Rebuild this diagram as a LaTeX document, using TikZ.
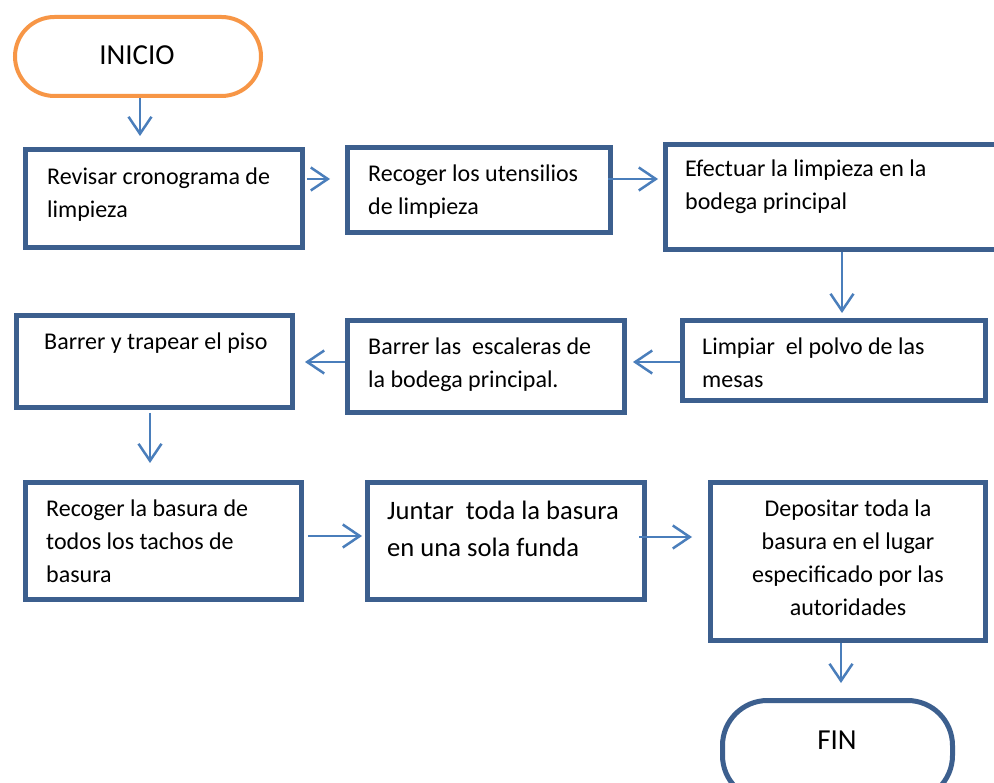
\documentclass[tikz,border=0pt]{standalone}
\usepackage{fontspec}
\setmainfont{Carlito}
\usetikzlibrary{arrows.meta}
\definecolor{boxblue}{HTML}{3C5F8E}
\definecolor{arrblue}{HTML}{4A7EBB}
\definecolor{startorange}{HTML}{F79646}
\tikzset{
  stepbox/.style={draw=boxblue, line width=5pt, fill=white, rectangle, inner sep=0pt},
  termbox/.style={rectangle, line width=5pt, fill=white, inner sep=0pt},
  txt/.style={inner sep=0pt, align=left, anchor=north west, text=black, font=\fontsize{24}{33}\selectfont},
  bigtxt/.style={inner sep=0pt, text=black, font=\fontsize{29}{35}\selectfont},
  arr/.style={draw=arrblue, line width=2.5pt, -{Straight Barb[length=17pt,width=23pt]}},
}
\begin{document}
\begin{tikzpicture}[x=1pt,y=-1pt]
\useasboundingbox[fill=white] (0,0) rectangle (994,783);

% terminals
\node[termbox, draw=startorange, line width=4pt, rounded corners=39.5pt,
      minimum width=246pt, minimum height=79pt] (inicio) at (138,56.5) {};
\node[bigtxt] (tinicio) at (137,55) {INICIO};

\node[termbox, draw=boxblue, rounded corners=45pt,
      minimum width=230pt, minimum height=100pt] (fin) at (837.5,750.5) {};
\node[bigtxt] (tfin) at (837,740) {FIN};

% process boxes
\node[stepbox, minimum width=277pt, minimum height=98pt]  (b1) at (164,198.5) {};
\node[stepbox, minimum width=263pt, minimum height=85pt]  (b2) at (479,190) {};
\node[stepbox, minimum width=332pt, minimum height=105pt] (b3) at (831.5,197) {};
\node[stepbox, minimum width=303pt, minimum height=80pt]  (b4) at (834,360.5) {};
\node[stepbox, minimum width=277pt, minimum height=92pt]  (b5) at (486,366.5) {};
\node[stepbox, minimum width=276pt, minimum height=92pt]  (b6) at (154.5,361.5) {};
\node[stepbox, minimum width=276pt, minimum height=117pt] (b7) at (163.5,541) {};
\node[stepbox, minimum width=277pt, minimum height=117pt] (b8) at (506,541) {};
\node[stepbox, minimum width=275pt, minimum height=158pt] (b9) at (848,561.5) {};

% texts
\node[txt] (t1) at (47,160.9) {\strut Revisar cronograma de\\limpieza};
\node[txt] (t2) at (368,157.9) {\strut Recoger los utensilios\\de limpieza};
\node[txt] (t3) at (685,152.9) {\strut Efectuar la limpieza en la\\bodega principal};
\node[txt] (t4) at (702,331.4) {\strut Limpiar\ \ el polvo de las\\mesas};
\node[txt] (t5) at (368,331.4) {\strut Barrer las\ \ escaleras de\\la bodega principal.};
\node[txt] (t6) at (44,326.4) {\strut Barrer y trapear el piso};
\node[txt] (t7) at (46,493.4) {\strut Recoger la basura de\\todos los tachos de\\basura};
\node[txt, font=\fontsize{26.6}{37}\selectfont] (t8) at (387,493.1) {\strut Juntar\ \ toda la basura\\en una sola funda};
\node[txt, anchor=north, align=center] (t9) at (848,493.4) {\strut Depositar toda la\\basura en el lugar\\especificado por las\\autoridades};

% connectors
\draw[arr, shorten >=11pt] ([xshift=2pt]inicio.south) -- ([xshift=-24pt]b1.north);
\draw[arr, shorten <=2pt, shorten >=15pt] ([yshift=19.5pt]b1.east) -- ([yshift=11pt]b2.west);
\draw[arr, shorten <=-5pt, shorten >=5pt] ([yshift=11pt]b2.east) -- ([yshift=18pt]b3.west);
\draw[arr, shorten >=5pt] ([xshift=10.5pt]b3.south) -- ([xshift=8pt]b4.north);
\draw[arr, shorten >=6pt] ([yshift=-1.5pt]b4.west) -- ([yshift=4.5pt]b5.east);
\draw[arr, shorten >=10pt] ([yshift=4.5pt]b5.west) -- ([yshift=-0.5pt]b6.east);
\draw[arr, shorten <=3pt, shorten >=17pt] ([xshift=-4.5pt]b6.south) -- ([xshift=-13.5pt]b7.north);
\draw[arr, shorten <=4pt, shorten >=3pt] ([yshift=5pt]b7.east) -- ([yshift=5pt]b8.west);
\draw[arr, shorten <=-8pt, shorten >=16pt] ([yshift=4pt]b8.east) -- ([yshift=24.5pt]b9.west);
\draw[arr, shorten >=15pt] ([xshift=-7pt]b9.south) -- ([xshift=3.5pt]fin.north);
\end{tikzpicture}
\end{document}
